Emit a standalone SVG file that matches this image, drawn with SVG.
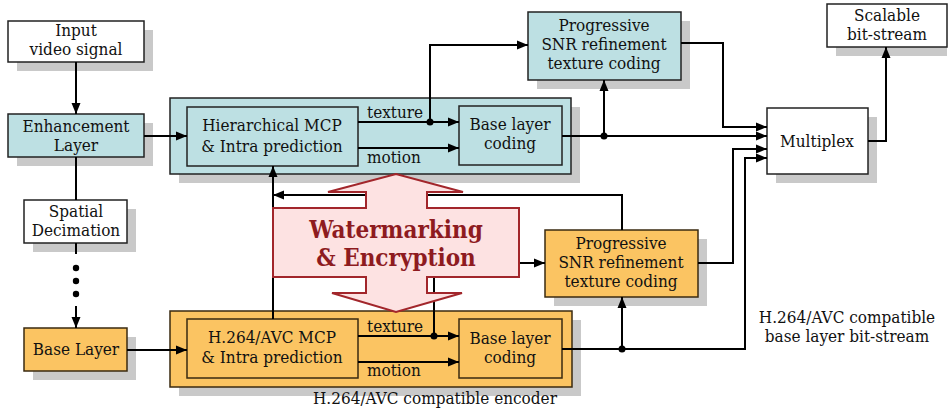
<svg xmlns="http://www.w3.org/2000/svg" width="949" height="411" viewBox="0 0 949 411">
  <defs>
    <marker id="arrow" markerUnits="userSpaceOnUse" markerWidth="12" markerHeight="10" refX="11" refY="5" orient="auto">
      <path d="M0,0.5 L11,5 L0,9.5 z" fill="#000"/>
    </marker>
  </defs>
  <style>
    text { font-family: 'DejaVu Serif Condensed', 'DejaVu Serif', serif; font-size: 17px; fill: #111; text-anchor: middle; }
    .lbl { text-anchor: start; }
    .wm { font-weight: bold; font-size: 24px; fill: #8e1b1f; }
    .shadow { fill: #c9c9c9; }
    .white { fill: #ffffff; stroke: #222; stroke-width: 1.5; }
    .blue { fill: #bde0e3; stroke: #222; stroke-width: 1.5; }
    .orange { fill: #fbc462; stroke: #3a2a10; stroke-width: 1.5; }
    .wire { fill: none; stroke: #000; stroke-width: 2; }
    .dot { fill: #000; }
  </style>

  <rect width="949" height="411" fill="#ffffff"/>

  <!-- enhancement-layer encoder container -->
  <g id="enh-encoder">
    <rect class="shadow" x="179" y="107" width="401" height="76"/>
    <rect class="blue" x="170" y="98" width="401" height="76"/>
  </g>

  <!-- base-layer (H.264/AVC) encoder container -->
  <g id="base-encoder">
    <rect class="shadow" x="179" y="320" width="402" height="76"/>
    <rect class="orange" x="170" y="311" width="402" height="76"/>
    <text x="435" y="404">H.264/AVC compatible encoder</text>
  </g>

  <g id="input">
    <rect class="shadow" x="17" y="30" width="136" height="41"/>
    <rect class="white" x="8" y="21" width="136" height="41"/>
    <text x="76" y="36">Input</text>
    <text x="76" y="55">video signal</text>
  </g>

  <g id="enhancement">
    <rect class="shadow" x="17" y="123" width="136" height="43"/>
    <rect class="blue" x="8" y="114" width="136" height="43"/>
    <text x="76" y="132">Enhancement</text>
    <text x="76" y="151">Layer</text>
  </g>

  <g id="decimation">
    <rect class="shadow" x="33" y="209" width="103" height="43"/>
    <rect class="white" x="24" y="200" width="103" height="43"/>
    <text x="76" y="217">Spatial</text>
    <text x="76" y="236">Decimation</text>
  </g>

  <g id="base-layer">
    <rect class="shadow" x="33" y="337" width="103" height="43"/>
    <rect class="orange" x="24" y="328" width="103" height="43"/>
    <text x="76" y="355">Base Layer</text>
  </g>

  <g id="hier-mcp">
    <rect class="blue" x="187" y="107" width="171" height="59"/>
    <text x="272" y="131">Hierarchical MCP</text>
    <text x="272" y="152">&amp; Intra prediction</text>
  </g>

  <g id="enh-base-coding">
    <rect class="blue" x="459" y="106" width="103" height="59"/>
    <text x="510" y="130">Base layer</text>
    <text x="510" y="149">coding</text>
  </g>

  <g id="enh-snr">
    <rect class="shadow" x="537" y="21" width="153" height="68"/>
    <rect class="blue" x="528" y="12" width="153" height="68"/>
    <text x="604" y="31">Progressive</text>
    <text x="604" y="50">SNR refinement</text>
    <text x="604" y="69">texture coding</text>
  </g>

  <g id="scalable">
    <rect class="shadow" x="836" y="13" width="111" height="43"/>
    <rect class="white" x="827" y="4" width="120" height="43"/>
    <text x="887" y="21">Scalable</text>
    <text x="887" y="40">bit-stream</text>
  </g>

  <g id="multiplex">
    <rect class="shadow" x="776" y="117" width="101" height="66"/>
    <rect class="white" x="767" y="108" width="101" height="66"/>
    <text x="817" y="147">Multiplex</text>
  </g>

  <g id="avc-mcp">
    <rect class="orange" x="187" y="319" width="171" height="59"/>
    <text x="272" y="343">H.264/AVC MCP</text>
    <text x="272" y="363">&amp; Intra prediction</text>
  </g>

  <g id="avc-base-coding">
    <rect class="orange" x="459" y="319" width="103" height="59"/>
    <text x="510" y="344">Base layer</text>
    <text x="510" y="363">coding</text>
  </g>

  <g id="base-snr">
    <rect class="shadow" x="554" y="239" width="153" height="67"/>
    <rect class="orange" x="545" y="230" width="153" height="67"/>
    <text x="621" y="249">Progressive</text>
    <text x="621" y="268">SNR refinement</text>
    <text x="621" y="287">texture coding</text>
  </g>

  <g id="avc-stream-label">
    <text x="847" y="323">H.264/AVC compatible</text>
    <text x="847" y="342">base layer bit-stream</text>
  </g>

  <!-- connectors -->
  <g id="connectors">
    <path class="wire" d="M76,62 V114" marker-end="url(#arrow)"/>
    <path class="wire" d="M76,157 V200"/>
    <path class="wire" d="M76,243 V254"/>
    <circle class="dot" cx="76" cy="268" r="3.2"/>
    <circle class="dot" cx="76" cy="281" r="3.2"/>
    <circle class="dot" cx="76" cy="294" r="3.2"/>
    <path class="wire" d="M76,306 V328" marker-end="url(#arrow)"/>
    <path class="wire" d="M144,136 H187" marker-end="url(#arrow)"/>
    <path class="wire" d="M127,350 H187" stroke-width="1.5" marker-end="url(#arrow)"/>

    <!-- enhancement encoder internals -->
    <path class="wire" d="M358,122 H459" marker-end="url(#arrow)"/>
    <path class="wire" d="M358,148 H459" marker-end="url(#arrow)"/>
    <circle class="dot" cx="430" cy="122" r="3.5"/>
    <path class="wire" d="M430,122 V45 H528" marker-end="url(#arrow)"/>
    <path class="wire" d="M562,136 H767" marker-end="url(#arrow)"/>
    <circle class="dot" cx="604" cy="136" r="3.5"/>
    <path class="wire" d="M604,136 V80" marker-end="url(#arrow)"/>
    <path class="wire" d="M681,43 H723 V127 H767" marker-end="url(#arrow)"/>
    <path class="wire" d="M868,141 H886 V47" marker-end="url(#arrow)"/>

    <!-- feedback from base-layer refinement to the enhancement predictor -->
    <path class="wire" d="M622,230 V195 H273" marker-end="url(#arrow)"/>
    <path class="wire" d="M273,319 V166" marker-end="url(#arrow)"/>

    <!-- base encoder internals -->
    <path class="wire" d="M358,336 H459" marker-end="url(#arrow)"/>
    <path class="wire" d="M358,362 H459" marker-end="url(#arrow)"/>
    <circle class="dot" cx="434" cy="336" r="3.5"/>
    <path class="wire" d="M434,336 V277"/>
    <path class="wire" d="M519,263 H545" marker-end="url(#arrow)"/>
    <path class="wire" d="M562,349 H745 V158 H767" marker-end="url(#arrow)"/>
    <circle class="dot" cx="622" cy="349" r="3.5"/>
    <path class="wire" d="M622,349 V297" marker-end="url(#arrow)"/>
    <path class="wire" d="M698,263 H733 V149 H767" marker-end="url(#arrow)"/>
  </g>

  <!-- connector labels -->
  <g id="wire-labels">
    <text class="lbl" x="367" y="118">texture</text>
    <text class="lbl" x="367" y="163">motion</text>
    <text class="lbl" x="367" y="332">texture</text>
    <text class="lbl" x="367" y="376">motion</text>
  </g>

  <!-- double-headed watermarking / encryption block -->
  <g id="watermarking">
    <path d="M273,208 H366 V192 H328 L396,174 L463,192 H427 V208 H519 V277 H427 V293 H462 L396,312 L332,293 H366 V277 H273 Z"
          fill="#fde2e2" stroke="#a2262b" stroke-width="2"/>
    <text class="wm" x="396" y="238">Watermarking</text>
    <text class="wm" x="396" y="266">&amp; Encryption</text>
  </g>
</svg>
